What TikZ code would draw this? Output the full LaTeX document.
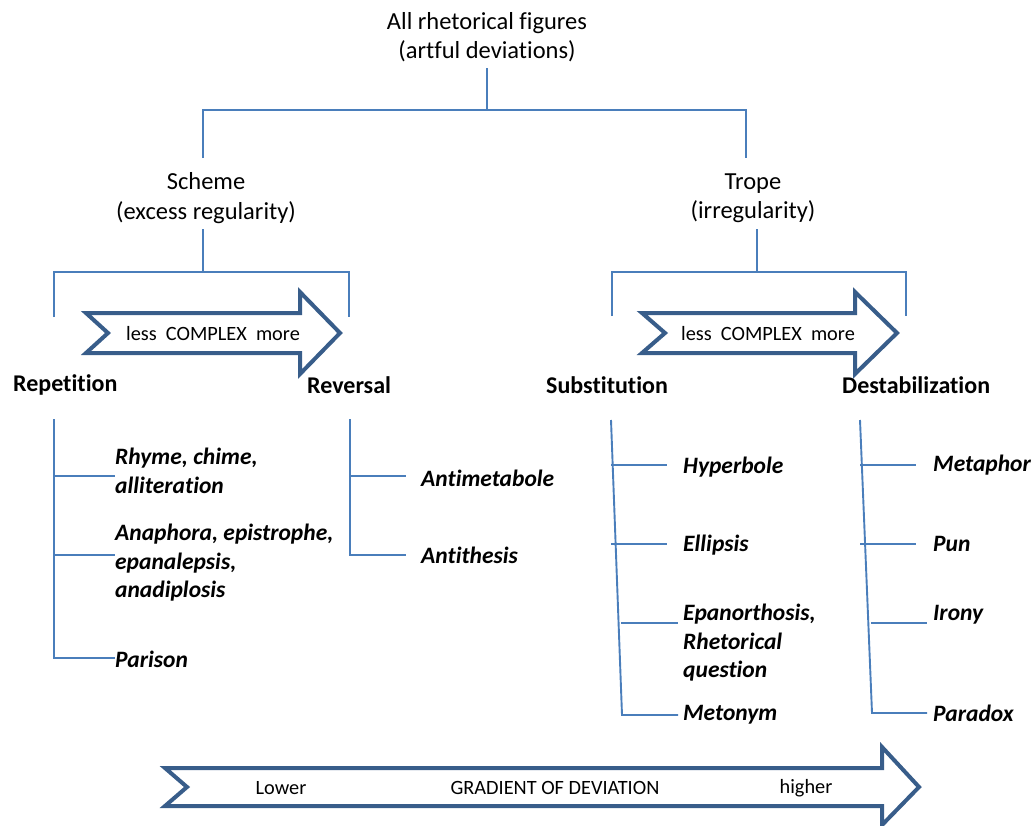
\documentclass[tikz,border=0pt]{standalone}
\usepackage{fontspec}
\setmainfont{Carlito}[Ligatures=NoCommon]
\definecolor{lineblue}{RGB}{74,126,187}
\definecolor{arrowblue}{RGB}{56,93,138}
\tikzset{
  tree/.style={draw=lineblue, line width=1.9pt},
  toplbl/.style={inner sep=0pt, align=center, font=\fontsize{24.5}{29.5}\selectfont},
  cat/.style={inner sep=0pt, anchor=west, font=\bfseries\fontsize{24}{28}\selectfont},
  item/.style={inner sep=0pt, anchor=west, align=left, font=\bfseries\itshape\fontsize{23.5}{28.5}\selectfont},
  arrowlbl/.style={inner sep=0pt, font=\fontsize{20.3}{24}\selectfont},
  bigarrow/.style={draw=arrowblue, line width=4pt, fill=white, line join=miter},
}
\begin{document}
\begin{tikzpicture}[x=1pt, y=-1pt]
\useasboundingbox (0,0) rectangle (1035,825);

% ---------- top level ----------
\node[toplbl] (all) at (487,37) {All rhetorical figures\\(artful deviations)};
\node[toplbl] (scheme) at (206,198) {Scheme\\(excess regularity)};
\node[toplbl] (trope) at (753,198) {Trope\\(irregularity)};

\coordinate (a0) at (487,68);
\coordinate (a1) at (487,110);
\coordinate (aL) at (203,110);
\coordinate (aR) at (746,110);
\coordinate (aLb) at (203,158);
\coordinate (aRb) at (746,158);
\draw[tree] (a0) -- (a1);
\draw[tree] (aLb) -- (aL) -- (aR) -- (aRb);

% ---------- scheme bracket ----------
\coordinate (s0) at (203,229);
\coordinate (s1) at (203,272);
\coordinate (sL) at (54,272);
\coordinate (sR) at (349,272);
\coordinate (sLb) at (54,317);
\coordinate (sRb) at (349,317);
\draw[tree] (s0) -- (s1);
\draw[tree] (sLb) -- (sL) -- (sR) -- (sRb);

% ---------- trope bracket ----------
\coordinate (t0) at (757,229);
\coordinate (t1) at (757,272);
\coordinate (tL) at (612,272);
\coordinate (tR) at (906,272);
\coordinate (tLb) at (612,316);
\coordinate (tRb) at (906,316);
\draw[tree] (t0) -- (t1);
\draw[tree] (tLb) -- (tL) -- (tR) -- (tRb);

% ---------- complexity arrows ----------
\draw[bigarrow] (86,313) -- (300,313) -- (300,292) -- (340,333) -- (300,374) -- (300,353) -- (86,353) -- (108,333) -- cycle;
\node[arrowlbl] (cx1) at (213,334) {less\ \ COMPLEX\ \ more};
\draw[bigarrow] (642,313) -- (855,313) -- (855,292) -- (897,333) -- (855,374) -- (855,353) -- (642,353) -- (665,333) -- cycle;
\node[arrowlbl] (cx2) at (768,334) {less\ \ COMPLEX\ \ more};

% ---------- categories ----------
\node[cat] (rep) at (13,385) {Repetition};
\node[cat] (rev) at (307,385) {Reversal};
\node[cat] (sub) at (546,385) {Substitution};
\node[cat] (des) at (842,385) {Destabilization};

% ---------- Repetition ----------
\node[item] (rhy) at (115,471) {Rhyme, chime,\\alliteration};
\node[item] (ana) at (115,563) {Anaphora, epistrophe,\\epanalepsis,\\anadiplosis};
\node[item] (par) at (115,659) {Parison};
\coordinate (r0) at (54,419);
\coordinate (r1) at (54,476);
\coordinate (r2) at (54,555);
\coordinate (r3) at (54,658);
\draw[tree] (r0) -- (r3) -- (r3 -| par.west);
\draw[tree] (r1) -- (r1 -| rhy.west);
\draw[tree] (r2) -- (r2 -| ana.west);

% ---------- Reversal ----------
\node[item] (amt) at (421,478) {Antimetabole};
\node[item] (ath) at (421,555) {Antithesis};
\coordinate (v0) at (350,419);
\coordinate (v1) at (350,476);
\coordinate (v2) at (350,555);
\coordinate (v1e) at (406,476);
\coordinate (v2e) at (406,555);
\draw[tree] (v0) -- (v2) -- (v2e);
\draw[tree] (v1) -- (v1e);

% ---------- Substitution ----------
\node[item] (hyp) at (683,467) {Hyperbole};
\node[item] (ell) at (683,545) {Ellipsis};
\node[item] (epa) at (683,643) {Epanorthosis,\\Rhetorical\\question};
\node[item] (met) at (683,715) {Metonym};
\coordinate (u0) at (611,420);
\coordinate (u1) at (622,715);
\coordinate (u1s) at (611,465);
\coordinate (u1e) at (667,465);
\coordinate (u2s) at (611,544);
\coordinate (u2e) at (667,544);
\coordinate (u3s) at (621,623);
\coordinate (u3e) at (678,623);
\coordinate (u4e) at (678,715);
\draw[tree] (u0) -- (u1) -- (u4e);
\draw[tree] (u1s) -- (u1e);
\draw[tree] (u2s) -- (u2e);
\draw[tree] (u3s) -- (u3e);

% ---------- Destabilization ----------
\node[item] (mph) at (933,465) {Metaphor};
\node[item] (pun) at (933,544) {Pun};
\node[item] (iro) at (933,615) {Irony};
\node[item] (pdx) at (933,713) {Paradox};
\coordinate (d0) at (860,420);
\coordinate (d1) at (872,713);
\coordinate (d1s) at (860,465);
\coordinate (d1e) at (916,465);
\coordinate (d2s) at (860,544);
\coordinate (d2e) at (916,544);
\coordinate (d3s) at (871,623);
\coordinate (d3e) at (927,623);
\coordinate (d4e) at (927,713);
\draw[tree] (d0) -- (d1) -- (d4e);
\draw[tree] (d1s) -- (d1e);
\draw[tree] (d2s) -- (d2e);
\draw[tree] (d3s) -- (d3e);

% ---------- gradient arrow ----------
\draw[bigarrow] (165,768) -- (882,768) -- (882,747) -- (919,787) -- (882,825) -- (882,806) -- (165,806) -- (187,787) -- cycle;
\node[arrowlbl] (low) at (281,788) {Lower};
\node[arrowlbl] (grad) at (555,788) {GRADIENT OF DEVIATION};
\node[arrowlbl] (high) at (806,788) {higher};
\end{tikzpicture}
\end{document}
